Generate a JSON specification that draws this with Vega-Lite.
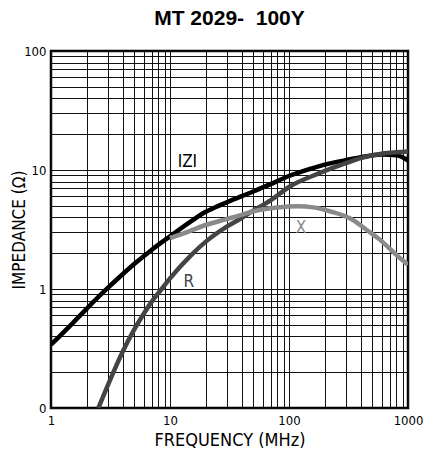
{
  "$schema": "https://vega.github.io/schema/vega-lite/v6.json",
  "width": 357,
  "height": 357,
  "autosize": "none",
  "padding": {"left": 51, "top": 51, "right": 15, "bottom": 48},
  "background": "#ffffff",
  "title": {
    "text": "MT 2029-\u00a0 100Y",
    "font": "Liberation Sans",
    "fontSize": 21,
    "fontWeight": "bold",
    "color": "#000000",
    "anchor": "middle",
    "frame": "group",
    "baseline": "alphabetic",
    "offset": -1
  },
  "config": {
    "view": {"stroke": "#000000", "strokeWidth": 2.5},
    "axis": {
      "labelFont": "DejaVu Sans Condensed",
      "titleFont": "DejaVu Sans Condensed",
      "labelColor": "#000000",
      "titleColor": "#000000",
      "labelFontSize": 13,
      "titleFontSize": 17,
      "titleFontWeight": "normal",
      "grid": true,
      "gridColor": "#111111",
      "gridWidth": 1,
      "gridOpacity": 1,
      "ticks": false,
      "domain": false,
      "labelOverlap": false,
      "labelFlush": false,
      "labelBound": false
    }
  },
  "layer": [
    {
      "data": {
        "values": [
          {"f": 1, "z": 0.34, "s": "IZI"},
          {"f": 1.5, "z": 0.51, "s": "IZI"},
          {"f": 2, "z": 0.685, "s": "IZI"},
          {"f": 3, "z": 1.02, "s": "IZI"},
          {"f": 4, "z": 1.33, "s": "IZI"},
          {"f": 5, "z": 1.62, "s": "IZI"},
          {"f": 7, "z": 2.13, "s": "IZI"},
          {"f": 10, "z": 2.77, "s": "IZI"},
          {"f": 15, "z": 3.7, "s": "IZI"},
          {"f": 20, "z": 4.45, "s": "IZI"},
          {"f": 25, "z": 4.95, "s": "IZI"},
          {"f": 30, "z": 5.35, "s": "IZI"},
          {"f": 50, "z": 6.6, "s": "IZI"},
          {"f": 70, "z": 7.6, "s": "IZI"},
          {"f": 100, "z": 8.9, "s": "IZI"},
          {"f": 150, "z": 10.2, "s": "IZI"},
          {"f": 200, "z": 11.1, "s": "IZI"},
          {"f": 300, "z": 12.1, "s": "IZI"},
          {"f": 400, "z": 12.8, "s": "IZI"},
          {"f": 600, "z": 13.5, "s": "IZI"},
          {"f": 800, "z": 13.3, "s": "IZI"},
          {"f": 900, "z": 12.8, "s": "IZI"},
          {"f": 1000, "z": 12.0, "s": "IZI"},
          {"f": 2.5, "z": 0.1, "s": "R"},
          {"f": 3, "z": 0.155, "s": "R"},
          {"f": 4, "z": 0.297, "s": "R"},
          {"f": 5, "z": 0.455, "s": "R"},
          {"f": 6, "z": 0.617, "s": "R"},
          {"f": 7, "z": 0.78, "s": "R"},
          {"f": 8.5, "z": 1.0, "s": "R"},
          {"f": 10, "z": 1.23, "s": "R"},
          {"f": 15, "z": 1.92, "s": "R"},
          {"f": 20, "z": 2.5, "s": "R"},
          {"f": 30, "z": 3.34, "s": "R"},
          {"f": 40, "z": 3.95, "s": "R"},
          {"f": 50, "z": 4.56, "s": "R"},
          {"f": 70, "z": 5.55, "s": "R"},
          {"f": 100, "z": 7.2, "s": "R"},
          {"f": 180, "z": 9.4, "s": "R"},
          {"f": 300, "z": 11.4, "s": "R"},
          {"f": 400, "z": 12.6, "s": "R"},
          {"f": 600, "z": 13.7, "s": "R"},
          {"f": 800, "z": 14.1, "s": "R"},
          {"f": 1000, "z": 14.3, "s": "R"},
          {"f": 10, "z": 2.68, "s": "X"},
          {"f": 13, "z": 2.93, "s": "X"},
          {"f": 20, "z": 3.45, "s": "X"},
          {"f": 30, "z": 3.87, "s": "X"},
          {"f": 40, "z": 4.2, "s": "X"},
          {"f": 50, "z": 4.5, "s": "X"},
          {"f": 80, "z": 4.85, "s": "X"},
          {"f": 120, "z": 4.95, "s": "X"},
          {"f": 160, "z": 4.85, "s": "X"},
          {"f": 220, "z": 4.5, "s": "X"},
          {"f": 345, "z": 3.8, "s": "X"},
          {"f": 450, "z": 3.13, "s": "X"},
          {"f": 580, "z": 2.6, "s": "X"},
          {"f": 800, "z": 1.93, "s": "X"},
          {"f": 1000, "z": 1.6, "s": "X"}
        ]
      },
      "mark": {"type": "line", "strokeWidth": 4.5, "clip": true, "interpolate": "monotone"},
      "encoding": {
        "x": {
          "field": "f",
          "type": "quantitative",
          "scale": {"type": "log", "domain": [1, 1000], "nice": false},
          "axis": {
            "title": "FREQUENCY (MHz)",
            "titleFontSize": 18,
            "values": [1, 2, 3, 4, 5, 6, 7, 8, 9, 10, 20, 30, 40, 50, 60, 70, 80, 90, 100, 200, 300, 400, 500, 600, 700, 800, 900, 1000],
            "labelExpr": "datum.value == 1 || datum.value == 10 || datum.value == 100 || datum.value == 1000 ? format(datum.value, 'd') : ''",
            "labelPadding": 6,
            "titleX": 178.5,
            "titleY": 32,
            "titleAlign": "center",
            "titleBaseline": "middle"
          }
        },
        "y": {
          "field": "z",
          "type": "quantitative",
          "scale": {"type": "log", "domain": [0.1, 100], "nice": false},
          "axis": {
            "title": "IMPEDANCE (Ω)",
            "values": [0.1, 0.2, 0.3, 0.4, 0.5, 0.6, 0.7, 0.8, 0.9, 1, 2, 3, 4, 5, 6, 7, 8, 9, 10, 20, 30, 40, 50, 60, 70, 80, 90, 100],
            "labelExpr": "datum.value == 0.1 ? '0' : (datum.value == 1 || datum.value == 10 || datum.value == 100 ? format(datum.value, 'd') : '')",
            "labelPadding": 5,
            "titleX": -32,
            "titleY": 178.5,
            "titleAngle": -90,
            "titleAlign": "center",
            "titleBaseline": "middle"
          }
        },
        "color": {
          "field": "s",
          "type": "nominal",
          "scale": {"domain": ["IZI", "R", "X"], "range": ["#000000", "#444444", "#8a8a8a"]},
          "legend": null
        }
      }
    },
    {
      "data": {
        "values": [
          {"f": 14.0, "z": 11.75, "s": "IZI", "label": "IZI"},
          {"f": 14.4, "z": 1.145, "s": "R", "label": "R"},
          {"f": 126, "z": 3.25, "s": "X", "label": "X"}
        ]
      },
      "mark": {"type": "text", "font": "DejaVu Sans Condensed", "fontSize": 17, "align": "center", "baseline": "middle"},
      "encoding": {
        "x": {"field": "f", "type": "quantitative"},
        "y": {"field": "z", "type": "quantitative"},
        "text": {"field": "label"},
        "color": {"field": "s", "type": "nominal", "legend": null}
      }
    }
  ]
}
